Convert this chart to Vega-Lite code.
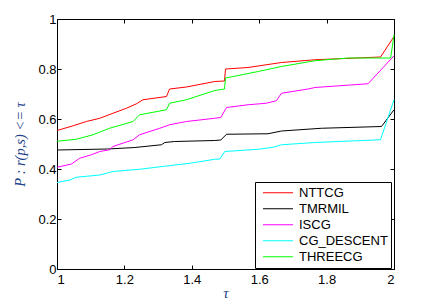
{
  "$schema": "https://vega.github.io/schema/vega-lite/v6.json",
  "width": 337,
  "height": 250,
  "autosize": {"type": "none"},
  "padding": {"left": 57, "top": 19, "right": 37, "bottom": 32},
  "background": "white",
  "config": {
    "view": {"stroke": null},
    "axis": {
      "grid": false,
      "domainColor": "black",
      "domainWidth": 1,
      "tickColor": "black",
      "tickSize": -4,
      "labelFont": "Liberation Sans",
      "labelFontSize": 13,
      "labelColor": "black",
      "titleFont": "Liberation Serif",
      "titleFontStyle": "italic",
      "titleFontWeight": "normal",
      "titleFontSize": 14.5,
      "titleColor": "#23408a"
    }
  },
  "data": {
    "values": [
      {"s": "NTTCG", "t": 1.0, "p": 0.554},
      {"s": "NTTCG", "t": 1.048, "p": 0.573},
      {"s": "NTTCG", "t": 1.087, "p": 0.590},
      {"s": "NTTCG", "t": 1.127, "p": 0.603},
      {"s": "NTTCG", "t": 1.166, "p": 0.623},
      {"s": "NTTCG", "t": 1.206, "p": 0.643},
      {"s": "NTTCG", "t": 1.236, "p": 0.661},
      {"s": "NTTCG", "t": 1.255, "p": 0.677},
      {"s": "NTTCG", "t": 1.325, "p": 0.690},
      {"s": "NTTCG", "t": 1.334, "p": 0.720},
      {"s": "NTTCG", "t": 1.384, "p": 0.728},
      {"s": "NTTCG", "t": 1.468, "p": 0.750},
      {"s": "NTTCG", "t": 1.497, "p": 0.752},
      {"s": "NTTCG", "t": 1.5, "p": 0.800},
      {"s": "NTTCG", "t": 1.567, "p": 0.806},
      {"s": "NTTCG", "t": 1.666, "p": 0.826},
      {"s": "NTTCG", "t": 1.765, "p": 0.837},
      {"s": "NTTCG", "t": 1.96, "p": 0.848},
      {"s": "NTTCG", "t": 2.0, "p": 0.930},
      {"s": "TMRMIL", "t": 1.0, "p": 0.476},
      {"s": "TMRMIL", "t": 1.15, "p": 0.480},
      {"s": "TMRMIL", "t": 1.231, "p": 0.486},
      {"s": "TMRMIL", "t": 1.31, "p": 0.497},
      {"s": "TMRMIL", "t": 1.32, "p": 0.506},
      {"s": "TMRMIL", "t": 1.349, "p": 0.510},
      {"s": "TMRMIL", "t": 1.468, "p": 0.514},
      {"s": "TMRMIL", "t": 1.486, "p": 0.516},
      {"s": "TMRMIL", "t": 1.503, "p": 0.539},
      {"s": "TMRMIL", "t": 1.626, "p": 0.541},
      {"s": "TMRMIL", "t": 1.666, "p": 0.552},
      {"s": "TMRMIL", "t": 1.785, "p": 0.563},
      {"s": "TMRMIL", "t": 1.963, "p": 0.570},
      {"s": "TMRMIL", "t": 2.0, "p": 0.637},
      {"s": "ISCG", "t": 1.0, "p": 0.407},
      {"s": "ISCG", "t": 1.043, "p": 0.420},
      {"s": "ISCG", "t": 1.067, "p": 0.443},
      {"s": "ISCG", "t": 1.102, "p": 0.457},
      {"s": "ISCG", "t": 1.127, "p": 0.470},
      {"s": "ISCG", "t": 1.156, "p": 0.477},
      {"s": "ISCG", "t": 1.166, "p": 0.490},
      {"s": "ISCG", "t": 1.226, "p": 0.517},
      {"s": "ISCG", "t": 1.245, "p": 0.537},
      {"s": "ISCG", "t": 1.305, "p": 0.563},
      {"s": "ISCG", "t": 1.334, "p": 0.577},
      {"s": "ISCG", "t": 1.384, "p": 0.590},
      {"s": "ISCG", "t": 1.468, "p": 0.603},
      {"s": "ISCG", "t": 1.486, "p": 0.606},
      {"s": "ISCG", "t": 1.503, "p": 0.646},
      {"s": "ISCG", "t": 1.567, "p": 0.657},
      {"s": "ISCG", "t": 1.621, "p": 0.663},
      {"s": "ISCG", "t": 1.651, "p": 0.673},
      {"s": "ISCG", "t": 1.666, "p": 0.703},
      {"s": "ISCG", "t": 1.745, "p": 0.720},
      {"s": "ISCG", "t": 1.765, "p": 0.726},
      {"s": "ISCG", "t": 1.923, "p": 0.741},
      {"s": "ISCG", "t": 2.0, "p": 0.853},
      {"s": "CG_DESCENT", "t": 1.0, "p": 0.346},
      {"s": "CG_DESCENT", "t": 1.038, "p": 0.356},
      {"s": "CG_DESCENT", "t": 1.057, "p": 0.367},
      {"s": "CG_DESCENT", "t": 1.127, "p": 0.376},
      {"s": "CG_DESCENT", "t": 1.166, "p": 0.390},
      {"s": "CG_DESCENT", "t": 1.245, "p": 0.399},
      {"s": "CG_DESCENT", "t": 1.325, "p": 0.412},
      {"s": "CG_DESCENT", "t": 1.394, "p": 0.423},
      {"s": "CG_DESCENT", "t": 1.468, "p": 0.439},
      {"s": "CG_DESCENT", "t": 1.483, "p": 0.440},
      {"s": "CG_DESCENT", "t": 1.498, "p": 0.470},
      {"s": "CG_DESCENT", "t": 1.597, "p": 0.479},
      {"s": "CG_DESCENT", "t": 1.641, "p": 0.487},
      {"s": "CG_DESCENT", "t": 1.666, "p": 0.497},
      {"s": "CG_DESCENT", "t": 1.765, "p": 0.506},
      {"s": "CG_DESCENT", "t": 1.96, "p": 0.517},
      {"s": "CG_DESCENT", "t": 2.0, "p": 0.677},
      {"s": "THREECG", "t": 1.0, "p": 0.511},
      {"s": "THREECG", "t": 1.057, "p": 0.519},
      {"s": "THREECG", "t": 1.107, "p": 0.537},
      {"s": "THREECG", "t": 1.156, "p": 0.563},
      {"s": "THREECG", "t": 1.226, "p": 0.590},
      {"s": "THREECG", "t": 1.245, "p": 0.617},
      {"s": "THREECG", "t": 1.325, "p": 0.637},
      {"s": "THREECG", "t": 1.334, "p": 0.663},
      {"s": "THREECG", "t": 1.384, "p": 0.677},
      {"s": "THREECG", "t": 1.468, "p": 0.714},
      {"s": "THREECG", "t": 1.497, "p": 0.720},
      {"s": "THREECG", "t": 1.5, "p": 0.764},
      {"s": "THREECG", "t": 1.597, "p": 0.790},
      {"s": "THREECG", "t": 1.666, "p": 0.810},
      {"s": "THREECG", "t": 1.765, "p": 0.833},
      {"s": "THREECG", "t": 1.864, "p": 0.844},
      {"s": "THREECG", "t": 1.99, "p": 0.844},
      {"s": "THREECG", "t": 2.0, "p": 0.937}
    ]
  },
  "layer": [
    {
      "mark": {"type": "line", "strokeWidth": 1},
      "encoding": {
        "x": {
          "field": "t", "type": "quantitative",
          "scale": {"domain": [1, 2], "nice": false, "zero": false},
          "axis": {"orient": "bottom", "values": [1, 1.2, 1.4, 1.6, 1.8, 2], "format": "~g", "title": "τ", "titleX": 168.5, "titleY": 23, "titleBaseline": "middle", "titleFontSize": 15, "labelPadding": 8}
        },
        "y": {
          "field": "p", "type": "quantitative",
          "scale": {"domain": [0, 1], "nice": false},
          "axis": {"orient": "left", "values": [0, 0.2, 0.4, 0.6, 0.8, 1], "format": "~g", "title": "P : r(p,s) <= τ", "titleX": -37, "titleY": 125, "titleAngle": -90, "titleAlign": "center", "titleBaseline": "middle", "labelPadding": 5}
        },
        "color": {
          "field": "s", "type": "nominal", "sort": null,
          "scale": {
            "domain": ["NTTCG", "TMRMIL", "ISCG", "CG_DESCENT", "THREECG"],
            "range": ["#ff0000", "#000000", "#ff00ff", "#00ffff", "#00ff00"]
          },
          "legend": {
            "title": null,
            "orient": "none",
            "legendX": 198,
            "legendY": 163,
            "strokeColor": "black",
            "fillColor": "white",
            "padding": 3,
            "symbolType": "stroke",
            "symbolSize": 900,
            "symbolStrokeWidth": 1.2,
            "symbolOffset": 4,
            "labelOffset": 5,
            "labelFont": "Liberation Sans",
            "labelFontSize": 13,
            "labelColor": "black",
            "clipHeight": 15.5,
            "rowPadding": 0
          }
        }
      }
    },
    {
      "mark": {"type": "line", "opacity": 0},
      "encoding": {
        "x": {"field": "t", "type": "quantitative", "axis": {"orient": "top", "values": [1, 1.2, 1.4, 1.6, 1.8, 2], "labels": false, "title": null}},
        "y": {"field": "p", "type": "quantitative", "axis": {"orient": "right", "values": [0, 0.2, 0.4, 0.6, 0.8, 1], "labels": false, "title": null}},
        "detail": {"field": "s"}
      }
    }
  ],
  "resolve": {"axis": {"x": "independent", "y": "independent"}}
}
